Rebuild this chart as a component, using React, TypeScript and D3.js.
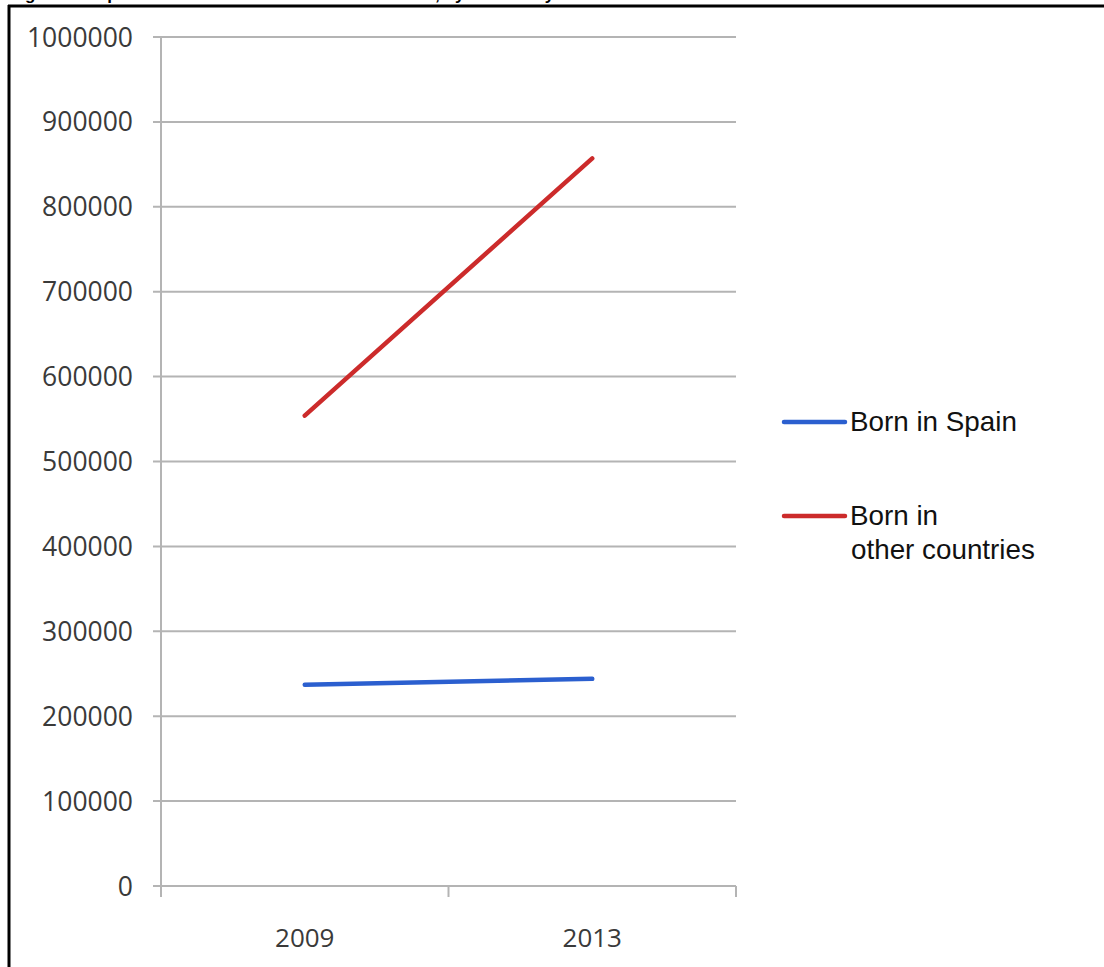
import React from "react";
import * as d3 from "d3";

// values
const years = ["2009", "2013"];
const bornInSpain = [237000, 244000];
const bornElsewhere = [554000, 857000];
const yTicks = [0, 100000, 200000, 300000, 400000, 500000, 600000, 700000, 800000, 900000, 1000000];

const seriesList = [
  { name: ["Born in Spain"], values: bornInSpain, color: "#2b5fcf" },
  { name: ["Born in", "other countries"], values: bornElsewhere, color: "#cc2b2b" },
];

const title = "Figure 1. Population of Catalonia in 2009 and in 2013, by nationality";

export default function App() {
  const width = 1104;
  const height = 967;
  const plot = { left: 161, right: 736, top: 37, bottom: 886 };

  const x = d3.scaleBand<string>().domain(years).range([plot.left, plot.right]);
  const y = d3.scaleLinear().domain([0, 1000000]).range([plot.bottom, plot.top]);
  const cx = (d: string) => (x(d) ?? 0) + x.bandwidth() / 2;

  const line = d3
    .line<number>()
    .x((_, i) => cx(years[i]))
    .y((v) => y(v));

  const grid = "#b4b4b4";
  const tickFont = "'Open Sans', 'DejaVu Sans', sans-serif";

  // boundaries between categories get the little down-ticks
  const xEdges = [plot.left, ...years.map((d) => (x(d) ?? 0) + x.bandwidth())];

  return (
    <svg
      width={width}
      height={height}
      style={{ position: "absolute", left: 0, top: 0, background: "#fff" }}
    >
      {/* caption from the page above, cut off by the crop as in the source */}
      <text
        x={10}
        y={0}
        fontFamily="'Liberation Sans', Arial, sans-serif"
        fontWeight="bold"
        fontSize={17}
        fill="#000"
      >
        {title}
      </text>
      <line x1={8} x2={width} y1={6} y2={6} stroke="#000" strokeWidth={3} />
      <line x1={9} x2={9} y1={5} y2={height} stroke="#000" strokeWidth={3} />

      {/* gridlines and y labels */}
      {yTicks.map((t) => (
        <g key={t}>
          <line
            x1={plot.left - 8}
            x2={plot.right}
            y1={y(t)}
            y2={y(t)}
            stroke={grid}
            strokeWidth={2}
          />
          <text
            x={133}
            y={y(t)}
            dy="0.36em"
            textAnchor="end"
            fontFamily={tickFont}
            fontSize={26.5}
            fill="#3a3a3a"
          >
            {t}
          </text>
        </g>
      ))}

      {/* y axis line */}
      <line
        x1={plot.left}
        x2={plot.left}
        y1={plot.top}
        y2={plot.bottom + 11}
        stroke={grid}
        strokeWidth={2}
      />
      {xEdges.map((e, i) => (
        <line
          key={i}
          x1={e}
          x2={e}
          y1={plot.bottom}
          y2={plot.bottom + 11}
          stroke={grid}
          strokeWidth={2}
        />
      ))}
      {years.map((d) => (
        <text
          key={d}
          x={cx(d)}
          y={947}
          textAnchor="middle"
          fontFamily={tickFont}
          fontSize={26}
          fill="#3a3a3a"
        >
          {d}
        </text>
      ))}

      {/* series */}
      {seriesList.map((s) => (
        <path
          key={s.name.join(" ")}
          d={line(s.values) ?? ""}
          fill="none"
          stroke={s.color}
          strokeWidth={4.5}
          strokeLinecap="round"
        />
      ))}

      {/* legend */}
      {seriesList.map((s, i) => {
        const ly = i === 0 ? 422 : 516;
        return (
          <g key={i}>
            <line
              x1={784}
              x2={845}
              y1={ly}
              y2={ly}
              stroke={s.color}
              strokeWidth={4.5}
              strokeLinecap="round"
            />
            <text
              x={850}
              y={ly + 9}
              fontFamily="'Liberation Sans', Arial, sans-serif"
              fontSize={27.8}
              fill="#111"
            >
              {s.name.map((n, j) => (
                <tspan key={j} x={j === 0 ? 850 : 851} dy={j === 0 ? 0 : 34}>
                  {n}
                </tspan>
              ))}
            </text>
          </g>
        );
      })}
    </svg>
  );
}
